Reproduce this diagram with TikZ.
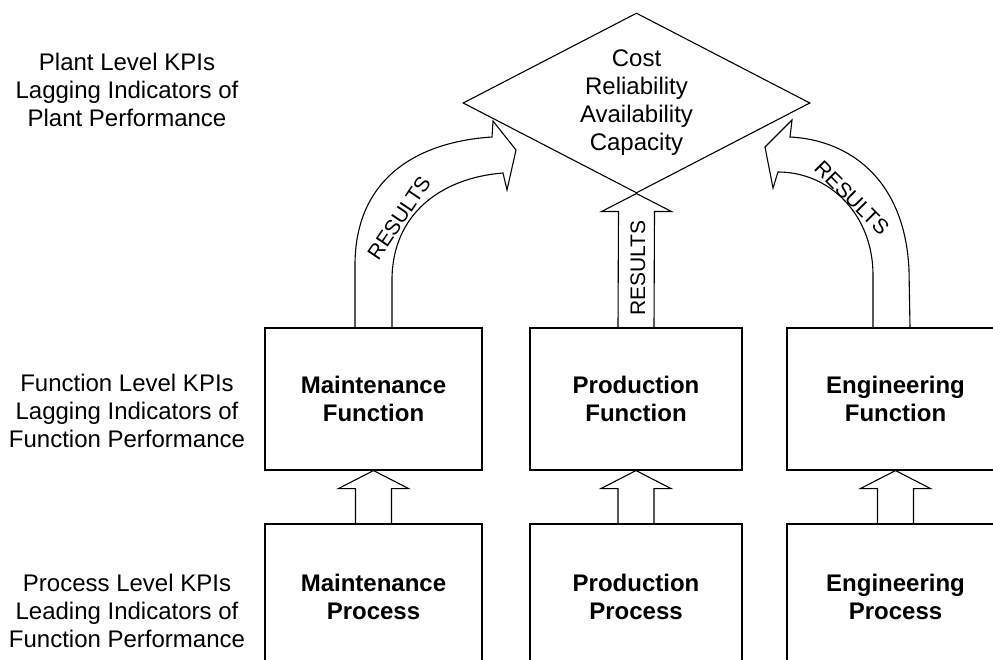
\documentclass[tikz,border=0pt]{standalone}
\usepackage{fontspec}
\setmainfont{Liberation Sans}
\usetikzlibrary{shapes.geometric, calc, positioning}

\newcommand{\blockup}[2]{%
  \draw[blockarrow] ($(#1)+(-18,0)$) -- ($(#2)+(-18,18)$) -- ($(#2)+(-35,18)$) -- (#2)
    -- ($(#2)+(35,18)$) -- ($(#2)+(18,18)$) -- ($(#1)+(18,0)$);}

\begin{document}
\begin{tikzpicture}[x=1pt, y=-1pt, line width=1.1pt,
          every node/.style = {align=center, font=\fontsize{24}{28}\selectfont},
          box/.style = {draw, inner sep=0pt, font=\bfseries\fontsize{24}{28}\selectfont},
          kpi/.style = {draw, diamond, shape aspect=1.93, minimum width=347pt, minimum height=180pt, inner sep=0pt},
          levellabel/.style = {inner sep=0pt},
          results/.style = {inner sep=0pt, font=\fontsize{21}{24}\selectfont},
          blockarrow/.style = {draw, line join=miter}]
  \clip (0,0) rectangle (993,660);
  % level labels
  \node[levellabel] (plant) at (127,90) {Plant Level KPIs\\Lagging Indicators of\\Plant Performance};
  \node[levellabel] (func) at (127,411) {Function Level KPIs\\Lagging Indicators of\\Function Performance};
  \node[levellabel] (proc) at (127,611) {Process Level KPIs\\Leading Indicators of\\Function Performance};
  % plant KPIs
  \node[kpi] (kpi) at (636.5,103) {Cost\\Reliability\\Availability\\Capacity};
  % function and process boxes
  \foreach \n/\x/\w/\name in {m/373.5/217/Maintenance, p/636/212/Production, e/895.5/217/Engineering} {
    \node[box, minimum width=\w pt, minimum height=142pt] (\n f) at (\x,399) {\name\\Function};
    \node[box, minimum width=\w pt, minimum height=146pt] (\n p) at (\x,597) {\name\\Process};
    \blockup{\n p.north}{\n f.south}
  }
  % results
  \blockup{pf.north}{kpi.south}
  \node[results, rotate=90] (r2) at (638,268) {RESULTS};
  \draw[blockarrow] ($(mf.north)+(-18.5,0)$) -- (355,265) .. controls (355,180) and (415,142) .. (492,137)
    -- (493,121) -- (516,150) -- (507,190) -- (503,173)
    .. controls (440,178) and (392,215) .. (392,280) -- ($(mf.north)+(18.5,0)$);
  \node[results, rotate=56] (r1) at (399,218) {RESULTS};
  \draw[blockarrow] ($(ef.north)+(14.5,0)$) -- (909,270) .. controls (905,180) and (850,140) .. (790,137)
    -- (792,120) -- (765,147) -- (773,188) -- (778,172)
    .. controls (830,172) and (873,215) .. (873,275) -- ($(ef.north)+(-22.5,0)$);
  \node[results, rotate=-45] (r3) at (852,198) {RESULTS};
\end{tikzpicture}
\end{document}
